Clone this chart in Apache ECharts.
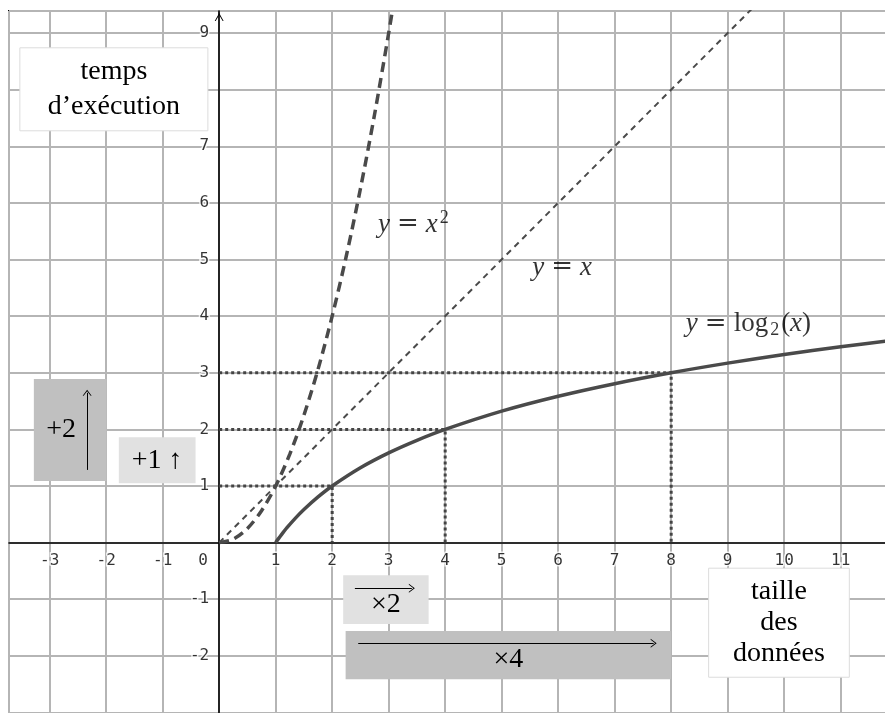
<!DOCTYPE html>
<html><head><meta charset="utf-8">
<script src="https://cdn.jsdelivr.net/npm/echarts@6/dist/echarts.min.js"></script>
<style>html,body{margin:0;padding:0;background:#fff}#c{width:885px;height:713px}</style>
</head><body><div id="c"></div>
<script>
// ---- data ----
const xTickLabels = [-3, -2, -1, 0, 1, 2, 3, 4, 5, 6, 7, 8, 9, 10, 11];
const yTickLabels = [-2, -1, 1, 2, 3, 4, 5, 6, 7, 9];
const squareX = [0, 0.25, 0.5, 0.75, 1, 1.25, 1.5, 1.75, 2, 2.25, 2.5, 2.75, 3, 3.1];
const squareY = [0, 0.0625, 0.25, 0.5625, 1, 1.5625, 2.25, 3.0625, 4, 5.0625, 6.25, 7.5625, 9, 9.61];
const identityX = [0, 10];
const identityY = [0, 10];
const logX = [1, 1.05, 1.1, 1.2, 1.35, 1.5, 1.75, 2, 2.5, 3, 3.5, 4, 5, 6, 7, 8, 9, 10, 11, 12];
const logY = [0, 0.0704, 0.1375, 0.263, 0.433, 0.585, 0.807, 1, 1.322, 1.585, 1.807, 2, 2.322, 2.585, 2.807, 3, 3.17, 3.322, 3.459, 3.585];
const guideX = [[0, 2, 2], [0, 4, 4], [0, 8, 8]];
const guideY = [[1, 1, 0], [2, 2, 0], [3, 3, 0]];
const curveNames = ['y = x²', 'y = x', 'y = log₂(x)'];
const boxTexts = ['temps\nd’exécution', 'taille\ndes\ndonnées', '+2', '+1 ↑', '×2', '×4'];

// ---- styling / layout ----
const zip = (xs, ys) => xs.map((x, i) => [x, ys[i]]);
const serif = 'Liberation Serif';
const mono = 'DejaVu Sans Mono';
const ink = '#4a4a4a';
const chevron = 'path://M0,9 L5,0 L10,9 L8.9,9 L5,2.2 L1.1,9 Z';

const tickStyle = {fontFamily: mono, fontSize: 16, color: '#000', textBorderColor: '#fff', textBorderWidth: 3};

const curveLabelPos = [[2.81, 5.62], [5.54, 4.86], [8.26, 3.86]];
const curveRich = [
  '{i|y}{eq|=}{i|x}{sup|2}',
  '{i|y}{eq|=}{i|x}',
  '{i|y}{eq|=}log{sub|2}({i|x})'
];

const boxGeom = [
  {c: [[-3.528, 8.740], [-0.200, 7.274]], fill: '#fff', border: '#dcdcdc', lh: 35, off: [0, 0]},
  {c: [[8.663, -0.452], [11.153, -2.378]], fill: '#fff', border: '#dcdcdc', lh: 31, off: [0, 0]},
  {c: [[-3.280, 2.892], [-1.993, 1.090]], fill: '#c0c0c0', border: null, lh: 30, off: [-9, 0]},
  {c: [[-1.776, 1.862], [-0.418, 1.049]], fill: '#e1e1e1', border: null, lh: 30, off: [0, 0]},
  {c: [[2.195, -0.576], [3.707, -1.436]], fill: '#e1e1e1', border: null, lh: 30, off: [0, 5]},
  {c: [[2.238, -1.560], [7.996, -2.413]], fill: '#c0c0c0', border: null, lh: 30, off: [0, 5]}
];
const arrowGeom = [
  [[-2.337, 1.284], [-2.337, 2.645]],
  [[2.402, -0.806], [3.41, -0.806]],
  [[2.461, -1.777], [7.69, -1.777]]
];

const guideSeries = guideX.map((xs, k) => ({
  type: 'line', data: zip(xs, guideY[k]), symbol: 'none', silent: true, z: 3,
  lineStyle: {color: '#444', width: 3, type: [3, 3]}
}));

const axisCommon = {
  type: 'value', minInterval: 1, maxInterval: 1,
  axisTick: {show: false},
  axisLabel: {show: false},
  splitLine: {show: true, lineStyle: {color: '#b5b5b5', width: 2}}
};

const option = {
  animation: false,
  grid: {left: 9, top: 11, right: -2, bottom: -2, containLabel: false, outerBoundsMode: 'none',
    show: true, borderColor: '#000', borderWidth: 2, backgroundColor: 'transparent'},
  xAxis: Object.assign({}, axisCommon, {
    min: -3.72, max: 11.82, splitNumber: 15,
    axisLine: {onZero: true, lineStyle: {color: '#000', width: 1.6}}
  }),
  yAxis: Object.assign({}, axisCommon, {
    min: -3.045, max: 9.39, splitNumber: 12,
    axisLine: {onZero: true, symbol: ['none', chevron], symbolSize: [11, 8], symbolOffset: [0, -6],
      lineStyle: {color: '#000', width: 1.6}}
  }),
  series: guideSeries.concat([
    {type: 'line', name: curveNames[0], data: zip(squareX, squareY), smooth: 0.3, symbol: 'none', z: 5,
      lineStyle: {color: ink, width: 3.5, type: [10, 6]}},
    {type: 'line', name: curveNames[1], data: zip(identityX, identityY), symbol: 'none', z: 4,
      lineStyle: {color: ink, width: 2, type: [6, 5]}},
    {type: 'line', name: curveNames[2], data: zip(logX, logY), smooth: 0.3, symbol: 'none', z: 5,
      lineStyle: {color: ink, width: 3.5}},
    // x tick labels
    {type: 'scatter', symbolSize: 0, silent: true, z: 7,
      data: xTickLabels.map(v => ({value: [v, 0], label: {offset: v === 0 ? [-16, 0] : [0, 0]}})),
      label: Object.assign({show: true, position: 'bottom', distance: 10, formatter: p => String(p.value[0])}, tickStyle)},
    // y tick labels
    {type: 'scatter', symbolSize: 0, silent: true, z: 7,
      data: yTickLabels.map(v => [0, v]),
      label: Object.assign({show: true, position: 'left', distance: 10, formatter: p => String(p.value[1])}, tickStyle)},
    // curve labels, boxes and arrows
    {type: 'scatter', symbolSize: 0, silent: true, z: 6,
      data: curveLabelPos.map((p, i) => ({value: p, label: {formatter: curveRich[i]}})),
      label: {show: true, position: 'right', distance: 0, fontFamily: serif, fontSize: 27, color: '#000', lineHeight: 30,
        rich: {
          i: {fontFamily: serif, fontStyle: 'italic', fontSize: 27, color: '#000', lineHeight: 30},
          eq: {fontFamily: 'DejaVu Serif', fontSize: 26, color: '#000', lineHeight: 30, padding: [0, 7, 0, 7]},
          sup: {fontFamily: serif, fontSize: 18, color: '#000', lineHeight: 16, verticalAlign: 'top', padding: [0, 0, 0, 2]},
          sub: {fontFamily: serif, fontSize: 18, color: '#000', lineHeight: 14, verticalAlign: 'bottom', padding: [0, 2, 0, 2]}
        }},
      markArea: {
        silent: true,
        data: boxGeom.map((b, i) => [
          {coord: b.c[0],
            itemStyle: {color: b.fill, borderColor: b.border || b.fill, borderWidth: b.border ? 1 : 0, opacity: 1},
            label: {show: true, position: 'inside', formatter: boxTexts[i], fontFamily: serif, fontSize: 28,
              color: '#000', lineHeight: b.lh, align: 'center', offset: b.off}},
          {coord: b.c[1]}
        ])
      },
      markLine: {
        silent: true, symbol: ['none', chevron], symbolSize: [9, 6],
        lineStyle: {color: '#000', width: 1, type: 'solid'},
        label: {show: false},
        data: arrowGeom.map(a => [{coord: a[0]}, {coord: a[1]}])
      }
    }
  ])
};

const chart = echarts.init(document.getElementById('c'), null, {renderer: 'canvas'});
chart.setOption(option);
</script>
</body></html>
